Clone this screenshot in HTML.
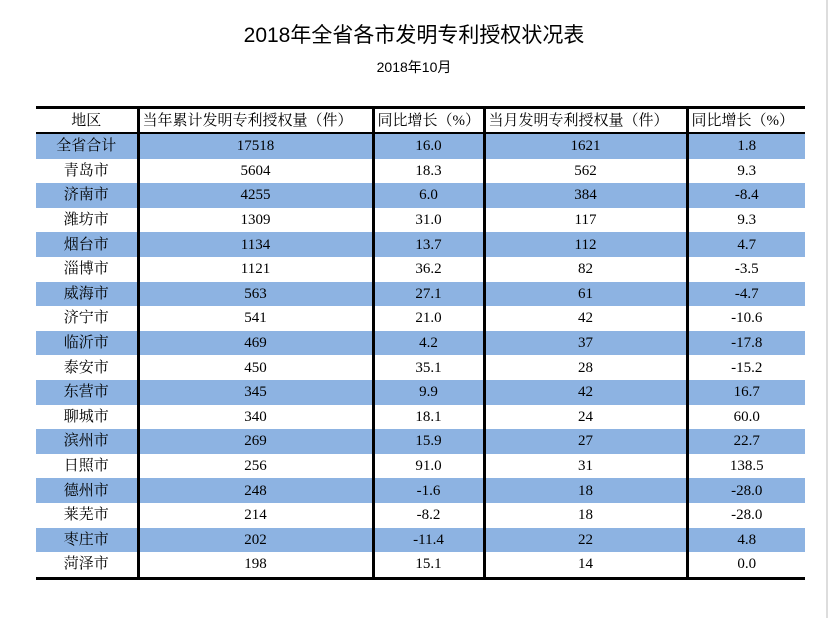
<!DOCTYPE html>
<html><head><meta charset="utf-8"><style>
body{margin:0;width:831px;height:618px;background:#fff;position:relative;overflow:hidden;font-family:"Liberation Serif","Noto Serif CJK SC",serif;}
#title{position:absolute;left:0;width:828px;top:19px;text-align:center;font:21px "Liberation Sans","Noto Sans CJK SC",sans-serif;color:#000;}
#sub{position:absolute;left:0;width:828px;top:57px;text-align:center;font:14px "Liberation Sans","Noto Sans CJK SC",sans-serif;}
table{position:absolute;left:36px;top:106px;width:769px;border-collapse:collapse;table-layout:fixed;font-size:15px;}
td{padding:0;height:24px;line-height:18px;text-align:center;border-left:3px solid #000;white-space:nowrap;overflow:hidden;}
td:first-child{border-left:none}
tr.h td{height:23px;border-bottom:2px solid #000;}
tr.h td.l{text-align:left;padding-left:3px}
tr.b td{background:#8db3e2}
table{border-top:3px solid #000;border-bottom:3px solid #000}
#edge{position:absolute;left:826px;top:0;width:2px;height:618px;background:#ddd}
</style></head><body>
<div id="title">2018年全省各市发明专利授权状况表</div>
<div id="sub">2018年10月</div>
<div id="edge"></div>
<table>
<colgroup><col style="width:102px"><col style="width:235px"><col style="width:111px"><col style="width:203px"><col style="width:118px"></colgroup>
<tr class="h"><td>地区</td><td class="l">当年累计发明专利授权量（件）</td><td class="l">同比增长（%）</td><td class="l">当月发明专利授权量（件）</td><td class="l">同比增长（%）</td></tr>
<tbody id="tb"></tbody>
</table>
<script>
const regions=["全省合计","青岛市","济南市","潍坊市","烟台市","淄博市","威海市","济宁市","临沂市","泰安市","东营市","聊城市","滨州市","日照市","德州市","莱芜市","枣庄市","菏泽市"];
const yearTotal=["17518","5604","4255","1309","1134","1121","563","541","469","450","345","340","269","256","248","214","202","198"];
const yearGrowth=["16.0","18.3","6.0","31.0","13.7","36.2","27.1","21.0","4.2","35.1","9.9","18.1","15.9","91.0","-1.6","-8.2","-11.4","15.1"];
const monthTotal=["1621","562","384","117","112","82","61","42","37","28","42","24","27","31","18","18","22","14"];
const monthGrowth=["1.8","9.3","-8.4","9.3","4.7","-3.5","-4.7","-10.6","-17.8","-15.2","16.7","60.0","22.7","138.5","-28.0","-28.0","4.8","0.0"];
const tb=document.getElementById('tb');
const rowH=24.6;
regions.forEach((r,i)=>{
  const tr=document.createElement('tr');
  
  
  if(i%2===0) tr.className='b';
  [r,yearTotal[i],yearGrowth[i],monthTotal[i],monthGrowth[i]].forEach((v,j)=>{
    const td=document.createElement('td');
    
    
    td.style.height=rowH+'px';
    td.textContent=v;
    tr.appendChild(td);
  });
  tb.appendChild(tr);
});
</script>
</body></html>
